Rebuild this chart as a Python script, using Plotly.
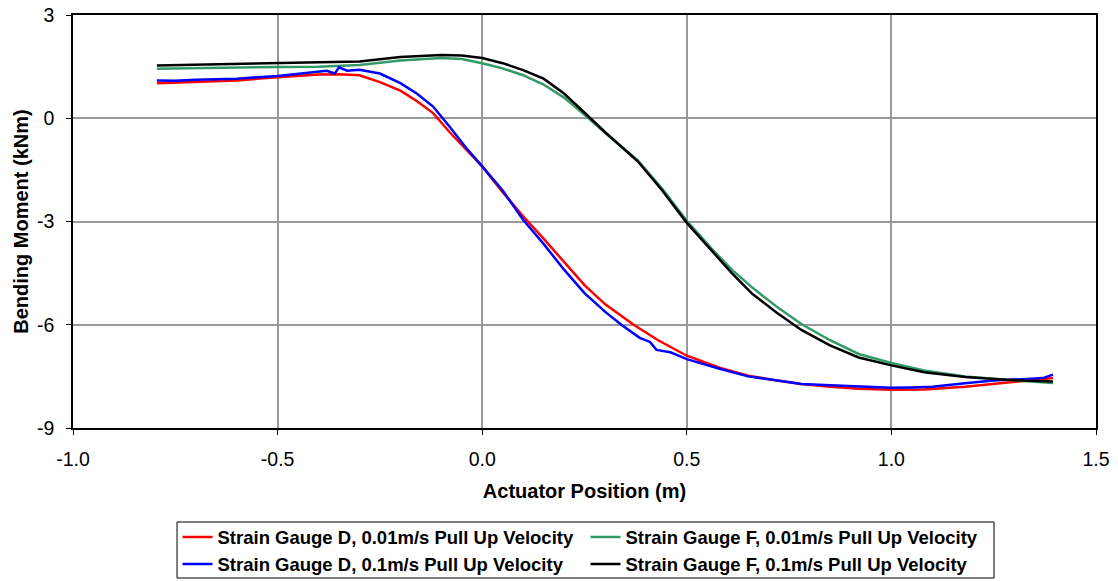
import plotly.graph_objects as go

# Strain Gauge D, 0.01 m/s
d001_x = [-0.795, -0.7, -0.6, -0.5, -0.4, -0.35, -0.3, -0.25, -0.2, -0.16, -0.12, -0.08, -0.04, 0.0, 0.05, 0.1, 0.15, 0.2, 0.25, 0.3, 0.37, 0.43, 0.5, 0.58, 0.65, 0.72, 0.78, 0.85, 0.92, 1.0, 1.08, 1.18, 1.25, 1.32, 1.395]
d001_y = [1.02, 1.05, 1.10, 1.19, 1.27, 1.28, 1.25, 1.05, 0.80, 0.50, 0.15, -0.40, -0.90, -1.40, -2.15, -2.85, -3.50, -4.18, -4.85, -5.40, -6.00, -6.45, -6.90, -7.25, -7.48, -7.62, -7.72, -7.80, -7.86, -7.89, -7.88, -7.80, -7.72, -7.65, -7.55]

# Strain Gauge D, 0.1 m/s
d01_x = [-0.795, -0.75, -0.7, -0.6, -0.5, -0.42, -0.38, -0.36, -0.35, -0.33, -0.3, -0.25, -0.2, -0.16, -0.12, -0.08, -0.04, 0.0, 0.05, 0.1, 0.15, 0.2, 0.25, 0.3, 0.34, 0.385, 0.41, 0.426, 0.46, 0.5, 0.58, 0.65, 0.72, 0.78, 0.85, 0.92, 1.0, 1.05, 1.1, 1.18, 1.25, 1.32, 1.37, 1.395]
d01_y = [1.10, 1.09, 1.12, 1.15, 1.23, 1.32, 1.38, 1.30, 1.48, 1.38, 1.41, 1.30, 1.02, 0.72, 0.34, -0.24, -0.85, -1.40, -2.10, -2.95, -3.65, -4.40, -5.08, -5.62, -6.00, -6.38, -6.50, -6.73, -6.80, -7.00, -7.28, -7.50, -7.62, -7.72, -7.76, -7.80, -7.83, -7.82, -7.80, -7.70, -7.62, -7.58, -7.55, -7.45]

# Strain Gauge F, 0.01 m/s
f001_x = [-0.795, -0.7, -0.6, -0.5, -0.4, -0.3, -0.2, -0.1, -0.05, 0.0, 0.05, 0.1, 0.15, 0.2, 0.26, 0.3, 0.38, 0.44, 0.5, 0.56, 0.61, 0.66, 0.72, 0.78, 0.85, 0.92, 1.0, 1.08, 1.18, 1.28, 1.395]
f001_y = [1.44, 1.46, 1.47, 1.49, 1.50, 1.55, 1.68, 1.75, 1.72, 1.60, 1.45, 1.25, 0.98, 0.60, 0.00, -0.42, -1.22, -2.05, -2.98, -3.78, -4.40, -4.92, -5.48, -5.98, -6.45, -6.85, -7.11, -7.33, -7.50, -7.60, -7.69]

# Strain Gauge F, 0.1 m/s
f01_x = [-0.795, -0.7, -0.6, -0.5, -0.4, -0.3, -0.2, -0.1, -0.05, 0.0, 0.05, 0.1, 0.15, 0.2, 0.26, 0.3, 0.38, 0.44, 0.5, 0.56, 0.61, 0.66, 0.72, 0.78, 0.85, 0.92, 1.0, 1.08, 1.18, 1.28, 1.395]
f01_y = [1.53, 1.55, 1.58, 1.60, 1.62, 1.65, 1.78, 1.84, 1.82, 1.75, 1.60, 1.40, 1.15, 0.72, 0.05, -0.40, -1.25, -2.10, -3.04, -3.85, -4.50, -5.10, -5.65, -6.15, -6.60, -6.95, -7.18, -7.38, -7.52, -7.60, -7.65]

x_tickvals = [-1.0, -0.5, 0.0, 0.5, 1.0, 1.5]
x_ticktext = ["-1.0", "-0.5", "0.0", "0.5", "1.0", "1.5"]
y_tickvals = [-9, -6, -3, 0, 3]
y_ticktext = ["-9", "-6", "-3", "0", "3"]

series = [
    ("Strain Gauge D, 0.01m/s Pull Up Velocity", d001_x, d001_y, "#FF0000"),
    ("Strain Gauge F, 0.01m/s Pull Up Velocity", f001_x, f001_y, "#339966"),
    ("Strain Gauge D, 0.1m/s Pull Up Velocity", d01_x, d01_y, "#0000FF"),
    ("Strain Gauge F, 0.1m/s Pull Up Velocity", f01_x, f01_y, "#000000"),
]

FONT = "Arial, Liberation Sans, sans-serif"

fig = go.Figure()
for name, xs, ys, col in series:
    fig.add_trace(go.Scatter(x=xs, y=ys, mode="lines", name=name,
                             line=dict(color=col, width=2.5)))

fig.update_layout(
    width=1118, height=581,
    margin=dict(l=73, r=22, t=15, b=153, autoexpand=False),
    paper_bgcolor="white", plot_bgcolor="white",
    font=dict(family=FONT, size=19, color="black"),
    showlegend=True,
    legend=dict(orientation="h", x=0.501, xanchor="center", y=-0.219, yanchor="top",
                entrywidth=363, entrywidthmode="pixels",
                bgcolor="rgba(0,0,0,0)", borderwidth=0,
                font=dict(family=FONT, size=18.5, color="black", weight="bold"),
                tracegroupgap=0, itemwidth=30),
    shapes=[dict(type="rect", xref="paper", yref="paper",
                 x0=0.1017, x1=0.9003, y0=-0.2276, y1=-0.3632,
                 line=dict(color="black", width=1), fillcolor="rgba(0,0,0,0)")],
)
fig.update_xaxes(range=[-1.0, 1.5], tickvals=x_tickvals, ticktext=x_ticktext,
                 showgrid=True, gridcolor="#999999", gridwidth=1.5,
                 showline=True, linecolor="black", linewidth=1.5, mirror=True,
                 ticks="outside", ticklen=5, tickcolor="black", zeroline=False,
                 automargin=False,
                 ticklabelstandoff=8, tickfont=dict(size=19.5),
                 title=dict(text="<b>Actuator Position (m)</b>", font=dict(size=20), standoff=15))
fig.update_yaxes(range=[-9, 3], tickvals=y_tickvals, ticktext=y_ticktext,
                 showgrid=True, gridcolor="#999999", gridwidth=1.5,
                 showline=True, linecolor="black", linewidth=1.5, mirror=True,
                 ticks="outside", ticklen=5, tickcolor="black", zeroline=False,
                 automargin=False,
                 ticklabelstandoff=8, tickfont=dict(size=19.5),
                 title=dict(text="<b>Bending Moment (kNm)</b>", font=dict(size=20), standoff=3))

fig.write_html("out.html")
